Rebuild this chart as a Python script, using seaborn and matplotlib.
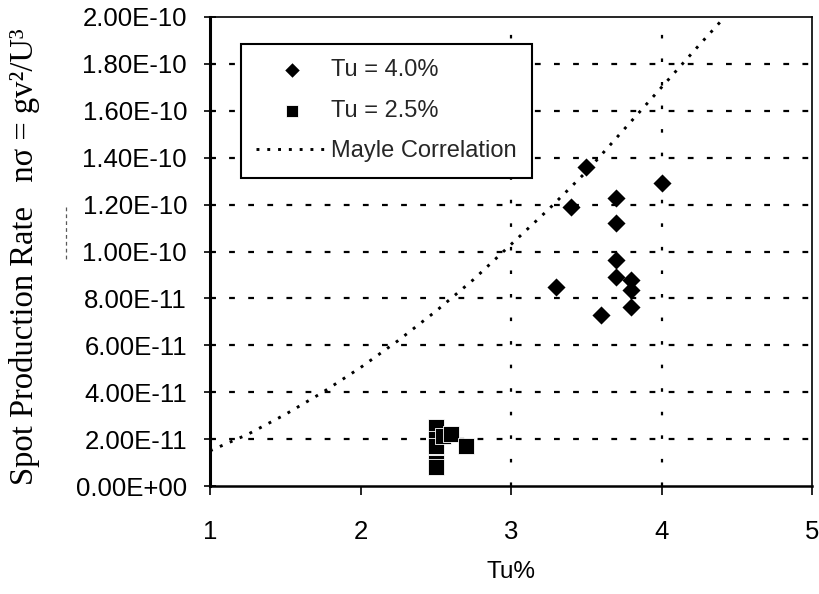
import matplotlib
matplotlib.use("Agg")
import matplotlib.pyplot as plt
from matplotlib.lines import Line2D
from matplotlib.ticker import FuncFormatter
import seaborn as sns
import pandas as pd

# ---- data ----
tu40_x = [3.3, 3.4, 3.5, 3.6, 3.7, 3.7, 3.7, 3.7, 3.8, 3.8, 3.8, 4.0]
tu40_y = [8.5e-11, 1.19e-10, 1.36e-10, 7.3e-11, 1.23e-10, 1.12e-10, 9.65e-11, 8.9e-11,
          8.8e-11, 8.35e-11, 7.65e-11, 1.29e-10]

tu25_x = [2.5, 2.5, 2.5, 2.5, 2.5, 2.55, 2.6, 2.7]
tu25_y = [2.5e-11, 2.0e-11, 1.7e-11, 1.0e-11, 0.8e-11, 2.15e-11, 2.2e-11, 1.7e-11]

mayle_x = [1.0, 1.25, 1.5, 1.75, 2.0, 2.25, 2.5, 2.75, 3.0, 3.25, 3.5, 3.75, 4.0, 4.25, 4.42]
mayle_y = [1.5e-11, 2.2e-11, 3.05e-11, 4.0e-11, 5.05e-11, 6.2e-11, 7.45e-11, 8.8e-11,
           1.03e-10, 1.18e-10, 1.34e-10, 1.52e-10, 1.70e-10, 1.88e-10, 2.0e-10]

x_ticks = [1, 2, 3, 4, 5]
y_ticks = [0, 2e-11, 4e-11, 6e-11, 8e-11, 1e-10, 1.2e-10, 1.4e-10, 1.6e-10, 1.8e-10, 2e-10]
v_grid = [3, 4]

labels = ["Tu = 4.0%", "Tu = 2.5%", "Mayle Correlation"]

sns.set_theme(style="white")
plt.rcParams["font.family"] = ["Liberation Sans", "DejaVu Sans"]

fig = plt.figure(figsize=(8.19, 5.94), dpi=100)
ax = fig.add_axes([210 / 819, 1 - 486 / 594, 602 / 819, 469 / 594])

df40 = pd.DataFrame({"x": tu40_x, "y": tu40_y})
df25 = pd.DataFrame({"x": tu25_x, "y": tu25_y})
dfm = pd.DataFrame({"x": mayle_x, "y": mayle_y})

# grid
for yv in y_ticks[1:-1]:
    ax.axhline(yv, color="black", lw=1.6, ls=(0, (2.6, 6.0)), zorder=1)
for xv in v_grid:
    ax.axvline(xv, color="black", lw=1.6, ls=(0, (1.6, 9.0)), zorder=1)

sns.lineplot(data=dfm, x="x", y="y", ax=ax, color="black", lw=2.1, sort=False,
             estimator=None, label=labels[2], zorder=2)
ax.lines[-1].set_linestyle((0, (1, 2.7)))
sns.scatterplot(data=df40, x="x", y="y", ax=ax, marker="D", s=85, color="black",
                edgecolor="black", linewidth=0, label=labels[0], zorder=3)
sns.scatterplot(data=df25, x="x", y="y", ax=ax, marker="s", s=135, color="black",
                edgecolor="white", linewidth=0.6, label=labels[1], zorder=3)

ax.set_xlim(1, 5)
ax.set_ylim(0, 2e-10)
ax.set_xticks(x_ticks)
ax.set_yticks(y_ticks)
ax.yaxis.set_major_formatter(FuncFormatter(lambda v, p: f"{v:.2E}"))
ax.xaxis.set_major_formatter(FuncFormatter(lambda v, p: f"{v:g}"))

ax.tick_params(axis="y", direction="inout", length=8, width=1.2, pad=12.5,
               labelsize=18.5, colors="black", left=True)
ax.tick_params(axis="x", direction="out", length=6.5, width=1.2, pad=18,
               labelsize=18.5, colors="black", bottom=True)

for side, lw in [("left", 2.2), ("bottom", 1.8), ("top", 1.2), ("right", 1.2)]:
    ax.spines[side].set_visible(True)
    ax.spines[side].set_color("black")
    ax.spines[side].set_linewidth(lw)

ax.set_xlabel("Tu%", fontsize=17.5, color="black", labelpad=12)
ax.set_ylabel("Spot Production Rate   nσ = gv²/U³", fontsize=23.5, color="black",
              family=["Liberation Serif", "DejaVu Serif"])
ax.yaxis.set_label_coords(-0.282, 0.49)

handles, lbls = ax.get_legend_handles_labels()
order = [lbls.index(l) for l in labels]
leg = ax.legend([handles[i] for i in order], [lbls[i] for i in order],
                loc="upper left", bbox_to_anchor=((241 - 210) / 602, (486 - 44) / 469),
                borderaxespad=0, frameon=True, fancybox=False, shadow=False,
                fontsize=17, handlelength=3.0, handletextpad=0.15, labelspacing=0.78,
                borderpad=0.65, markerscale=0.8)
leg.get_frame().set_edgecolor("black")
leg.get_frame().set_linewidth(1.5)
leg.get_frame().set_facecolor("white")
leg.get_frame().set_alpha(1)

# small stray dashed mark left of the tick labels
fig.add_artist(Line2D([66 / 819, 66 / 819], [1 - 207 / 594, 1 - 262 / 594],
                      color="0.35", lw=0.9, ls=(0, (3, 2.5))))

fig.savefig("out.png", dpi=100)
